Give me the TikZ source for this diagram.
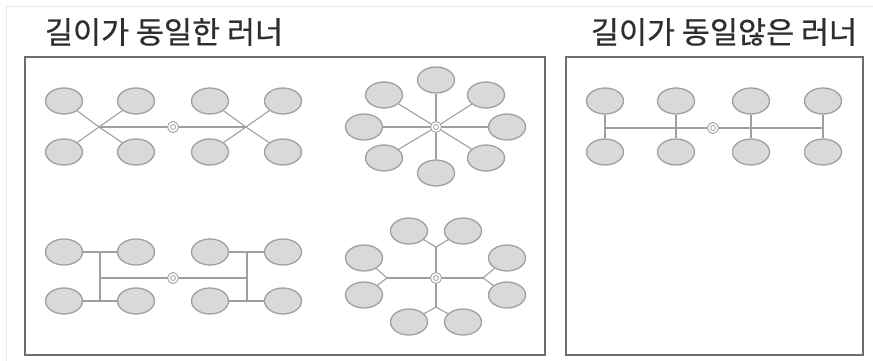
\documentclass[tikz,border=0pt]{standalone}
\usepackage{fontspec}
\newfontfamily\kfont[FakeBold=0.6]{Noto Sans CJK KR}
\usepackage{tikz}
\usetikzlibrary{
  shapes.geometric,  % ellipse nodes
  positioning
}
\definecolor{boxgray}{HTML}{6E6E6E}
\definecolor{cavfill}{HTML}{D9D9D9}
\definecolor{cavline}{HTML}{A0A0A0}
\definecolor{runline}{HTML}{A39E99}
\definecolor{titlegray}{HTML}{2E2E2E}
\tikzset{
  cav/.style={ellipse, draw=cavline, fill=cavfill, line width=1.3pt,
    minimum width=37pt, minimum height=26pt, inner sep=0pt},
  sprue/.style={circle, draw=cavline, fill=white, line width=0.9pt,
    minimum size=11pt, inner sep=0pt,
    path picture={\draw[cavline, line width=0.8pt]
      (path picture bounding box.center) circle (2.5pt);}},
  run/.style={draw=runline, line width=1.1pt},
  frame/.style={draw=boxgray, line width=2.4pt},
  title/.style={text=titlegray, inner sep=0pt,
    font=\kfont\fontsize{30.5}{33}\selectfont}
}
\begin{document}
\begin{tikzpicture}[x=1pt, y=-1pt]
  \useasboundingbox (0,0) rectangle (873,361);
  % faint outer panel edge
  \draw[gray!18, line width=1pt] (6,361) -- (6,7) -- (873,7);

  % titles
  \node[title] (t1) at (164,32) {길이가 동일한 러너};
  \node[title] (t2) at (724,32) {길이가 동일않은 러너};

  % frames
  \draw[frame] (25,57) rectangle (545,355);
  \draw[frame] (566,57) rectangle (863,355);

  % --- panel 1: X branches
  \coordinate (p1l) at (99,127);
  \coordinate (p1r) at (246,127);
  \node[sprue] (s1) at (173,127) {};
  \node[cav] (a1) at (64,101) {};
  \node[cav] (a2) at (136,101) {};
  \node[cav] (a3) at (210,101) {};
  \node[cav] (a4) at (283,101) {};
  \node[cav] (b1) at (64,152) {};
  \node[cav] (b2) at (136,152) {};
  \node[cav] (b3) at (210,152) {};
  \node[cav] (b4) at (283,152) {};
  \draw[run] (p1l) -- (s1) -- (p1r);
  \foreach \n in {a1,a2,b1,b2} \draw[run] (p1l) -- (\n);
  \foreach \n in {a3,a4,b3,b4} \draw[run] (p1r) -- (\n);

  % --- panel 2: star
  \node[sprue] (s2) at (436,127) {};
  \node[cav] (c1) at (436,80) {};
  \node[cav] (c2) at (486,95) {};
  \node[cav] (c3) at (507,127) {};
  \node[cav] (c4) at (486,158) {};
  \node[cav] (c5) at (436,173) {};
  \node[cav] (c6) at (384,158) {};
  \node[cav] (c7) at (364,127) {};
  \node[cav] (c8) at (384,95) {};
  \foreach \n in {c1,c2,c3,c4,c5,c6,c7,c8} \draw[run] (s2) -- (\n);

  % --- panel 3: H branches
  \coordinate (v1t) at (100,252);
  \coordinate (v1m) at (100,278);
  \coordinate (v1b) at (100,301);
  \coordinate (v2t) at (247,252);
  \coordinate (v2m) at (247,278);
  \coordinate (v2b) at (247,301);
  \node[sprue] (s3) at (173,278) {};
  \node[cav] (d1) at (64,252) {};
  \node[cav] (d2) at (136,252) {};
  \node[cav] (d3) at (210,252) {};
  \node[cav] (d4) at (283,252) {};
  \node[cav] (e1) at (64,301) {};
  \node[cav] (e2) at (136,301) {};
  \node[cav] (e3) at (210,301) {};
  \node[cav] (e4) at (283,301) {};
  \draw[run] (d1) -- (d2);
  \draw[run] (e1) -- (e2);
  \draw[run] (d3) -- (d4);
  \draw[run] (e3) -- (e4);
  \draw[run] (v1t) -- (v1b);
  \draw[run] (v2t) -- (v2b);
  \draw[run] (v1m) -- (s3) -- (v2m);

  % --- panel 4: cross with forks
  \coordinate (ft) at (436,247);
  \coordinate (fb) at (436,307);
  \coordinate (fl) at (387,278);
  \coordinate (fr) at (483,278);
  \node[sprue] (s4) at (436,278) {};
  \node[cav] (g1) at (409,231) {};
  \node[cav] (g2) at (463,231) {};
  \node[cav] (g3) at (507,258) {};
  \node[cav] (g4) at (507,295) {};
  \node[cav] (g5) at (463,322) {};
  \node[cav] (g6) at (409,322) {};
  \node[cav] (g7) at (364,295) {};
  \node[cav] (g8) at (364,258) {};
  \draw[run] (ft) -- (s4) -- (fb);
  \draw[run] (fl) -- (s4) -- (fr);
  \draw[run] (g1) -- (ft) -- (g2);
  \draw[run] (g3) -- (fr) -- (g4);
  \draw[run] (g5) -- (fb) -- (g6);
  \draw[run] (g7) -- (fl) -- (g8);

  % --- panel 5: unequal lengths
  \coordinate (hl) at (605,128);
  \coordinate (hr) at (823,128);
  \node[sprue] (s5) at (713,128) {};
  \node[cav] (k1) at (605,101) {};
  \node[cav] (k2) at (676,101) {};
  \node[cav] (k3) at (751,101) {};
  \node[cav] (k4) at (823,101) {};
  \node[cav] (m1) at (605,152) {};
  \node[cav] (m2) at (676,152) {};
  \node[cav] (m3) at (751,152) {};
  \node[cav] (m4) at (823,152) {};
  \draw[run] (hl) -- (s5) -- (hr);
  \foreach \i in {1,2,3,4} \draw[run] (k\i) -- (m\i);
\end{tikzpicture}
\end{document}
